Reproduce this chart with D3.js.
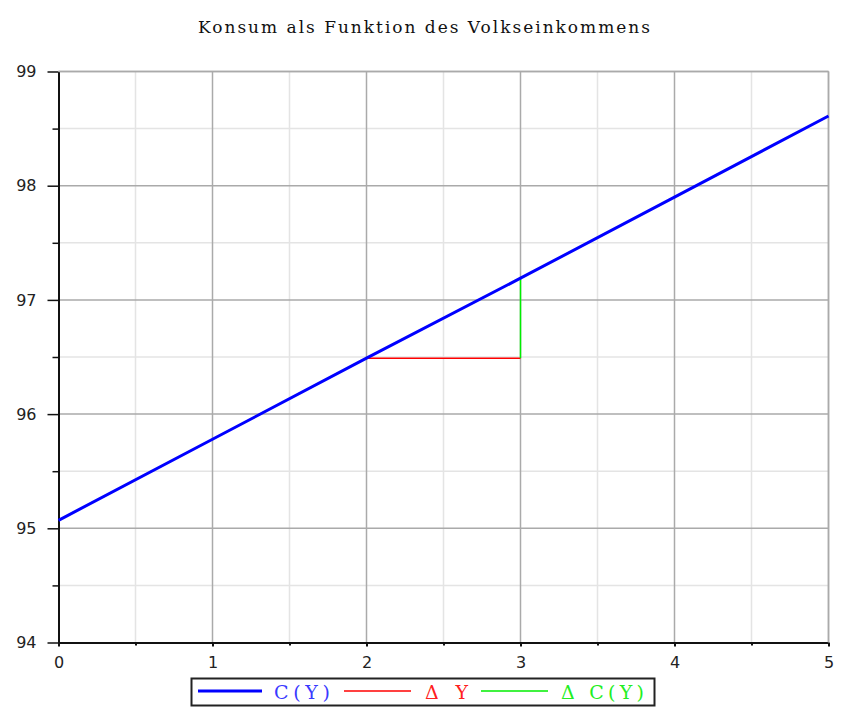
<!DOCTYPE html>
<html>
<head>
<meta charset="utf-8">
<script src="https://cdn.jsdelivr.net/npm/d3@7"></script>
<style>
  html, body { margin: 0; padding: 0; background: #fff; }
  svg { display: block; }
</style>
</head>
<body>
<svg id="chart" width="843" height="719"></svg>
<script>
// Income Y and consumption C(Y)
const incomeValues = [0, 1, 2, 3, 4, 5];
const consumptionValues = [95.07, 95.78, 96.49, 97.19, 97.90, 98.61];

// Slope triangle: ΔY (horizontal) and ΔC(Y) (vertical)
const deltaYx = [2, 3];
const deltaYy = [96.49, 96.49];
const deltaCx = [3, 3];
const deltaCy = [96.49, 97.19];

const xTickValues = [0, 1, 2, 3, 4, 5];
const yTickValues = [94, 95, 96, 97, 98, 99];
const xMinorValues = [0.5, 1.5, 2.5, 3.5, 4.5];
const yMinorValues = [94.5, 95.5, 96.5, 97.5, 98.5];

const titleText = "Konsum als Funktion des Volkseinkommens";
const legendLabels = ["C(Y)", "\u0394 Y", "\u0394 C(Y)"];
const legendColors = ["#0000ff", "#ff0000", "#00ee00"];
const legendTextColors = ["#3a3aff", "#ff2020", "#22ee22"];

(function drawChart() {
  const svg = d3.select("#chart");
  const plotLeft = 58.5, plotRight = 828.5, plotTop = 71.5, plotBottom = 642.5;
  const serif = "'DejaVu Serif', 'Liberation Serif', serif";

  const x = d3.scaleLinear().domain([0, 5]).range([plotLeft, plotRight]);
  const y = d3.scaleLinear().domain([94, 99]).range([plotBottom, plotTop]);

  // Title
  svg.append("text")
    .attr("x", 424).attr("y", 33)
    .attr("text-anchor", "middle")
    .attr("font-family", serif)
    .attr("font-size", 17)
    .attr("fill", "#111")
    .attr("textLength", 452)
    .attr("lengthAdjust", "spacing")
    .text(titleText);

  // Grid: minor lines first, then major
  const grid = svg.append("g");
  grid.selectAll(".vminor").data(xMinorValues).join("line")
    .attr("x1", d => x(d)).attr("x2", d => x(d))
    .attr("y1", plotTop).attr("y2", plotBottom)
    .attr("stroke", "#e4e4e4").attr("stroke-width", 1.5);
  grid.selectAll(".hminor").data(yMinorValues).join("line")
    .attr("x1", plotLeft).attr("x2", plotRight)
    .attr("y1", d => y(d)).attr("y2", d => y(d))
    .attr("stroke", "#e4e4e4").attr("stroke-width", 1.5);
  grid.selectAll(".vmajor").data(xTickValues.slice(1)).join("line")
    .attr("x1", d => x(d)).attr("x2", d => x(d))
    .attr("y1", plotTop).attr("y2", plotBottom)
    .attr("stroke", "#aaaaaa").attr("stroke-width", 1.5);
  grid.selectAll(".hmajor").data(yTickValues.slice(1)).join("line")
    .attr("x1", plotLeft).attr("x2", plotRight)
    .attr("y1", d => y(d)).attr("y2", d => y(d))
    .attr("stroke", "#aaaaaa").attr("stroke-width", 1.5);

  // Axes
  const tickFont = "'DejaVu Sans', Verdana, sans-serif";
  const fmt = d3.format("d");
  const xAxis = d3.axisBottom(x).tickValues(xTickValues).tickFormat(fmt)
    .tickSize(4).tickSizeOuter(0).tickPadding(10);
  const gx = svg.append("g").attr("transform", `translate(0,${plotBottom})`).call(xAxis);
  gx.select(".domain").attr("stroke", "#111").attr("stroke-width", 2);
  gx.selectAll(".tick line").attr("stroke", "#111").attr("stroke-width", 2);
  gx.selectAll(".tick text").attr("font-family", tickFont).attr("font-size", 16).attr("fill", "#222");
  const gxMinor = svg.append("g").attr("transform", `translate(0,${plotBottom})`)
    .call(d3.axisBottom(x).tickValues(xMinorValues).tickSize(3).tickSizeOuter(0).tickFormat(""));
  gxMinor.select(".domain").remove();
  gxMinor.selectAll(".tick line").attr("stroke", "#111").attr("stroke-width", 2);

  const yAxis = d3.axisLeft(y).tickValues(yTickValues).tickFormat(fmt)
    .tickSize(11).tickSizeOuter(0).tickPadding(11);
  const gy = svg.append("g").attr("transform", `translate(${plotLeft},0)`).call(yAxis);
  gy.select(".domain").attr("stroke", "#111").attr("stroke-width", 2);
  gy.selectAll(".tick line").attr("stroke", "#111").attr("stroke-width", 1.5);
  gy.selectAll(".tick text").attr("font-family", tickFont).attr("font-size", 16).attr("fill", "#222");
  const gyMinor = svg.append("g").attr("transform", `translate(${plotLeft},0)`)
    .call(d3.axisLeft(y).tickValues(yMinorValues).tickSize(6).tickSizeOuter(0).tickFormat(""));
  gyMinor.select(".domain").remove();
  gyMinor.selectAll(".tick line").attr("stroke", "#111").attr("stroke-width", 1.5);

  // Frame on the top and right sides
  svg.append("line").attr("x1", plotLeft).attr("x2", plotRight).attr("y1", plotTop).attr("y2", plotTop)
    .attr("stroke", "#aaaaaa").attr("stroke-width", 1.5);
  svg.append("line").attr("x1", plotRight).attr("x2", plotRight).attr("y1", plotTop).attr("y2", plotBottom)
    .attr("stroke", "#aaaaaa").attr("stroke-width", 1.5);

  // Data lines
  const line = d3.line().x(d => x(d[0])).y(d => y(d[1]));
  svg.append("path")
    .datum(d3.zip(deltaYx, deltaYy))
    .attr("d", line).attr("fill", "none")
    .attr("stroke", legendColors[1]).attr("stroke-width", 1.5);
  svg.append("path")
    .datum(d3.zip(deltaCx, deltaCy))
    .attr("d", line).attr("fill", "none")
    .attr("stroke", legendColors[2]).attr("stroke-width", 1.5);
  svg.append("path")
    .datum(d3.zip(incomeValues, consumptionValues))
    .attr("d", line).attr("fill", "none")
    .attr("stroke", legendColors[0]).attr("stroke-width", 3);

  // Legend
  const legend = svg.append("g");
  legend.append("rect")
    .attr("x", 191.5).attr("y", 678.5).attr("width", 463).attr("height", 27)
    .attr("fill", "#fff").attr("stroke", "#222").attr("stroke-width", 2);
  const legendItems = [
    { lx: 198, lw: 64, tx: 274, tw: 56, width: 3 },
    { lx: 344, lw: 67, tx: 425, tw: 43, width: 1.5 },
    { lx: 481, lw: 67, tx: 561, tw: 83, width: 1.5 }
  ];
  legendItems.forEach((it, i) => {
    legend.append("line")
      .attr("x1", it.lx).attr("x2", it.lx + it.lw)
      .attr("y1", 691).attr("y2", 691)
      .attr("stroke", legendColors[i]).attr("stroke-width", it.width);
    legend.append("text")
      .attr("x", it.tx).attr("y", 699)
      .attr("font-family", serif)
      .attr("font-size", 19)
      .attr("fill", legendTextColors[i])
      .attr("textLength", it.tw)
      .attr("lengthAdjust", "spacing")
      .text(legendLabels[i]);
  });
})();
</script>
</body>
</html>
